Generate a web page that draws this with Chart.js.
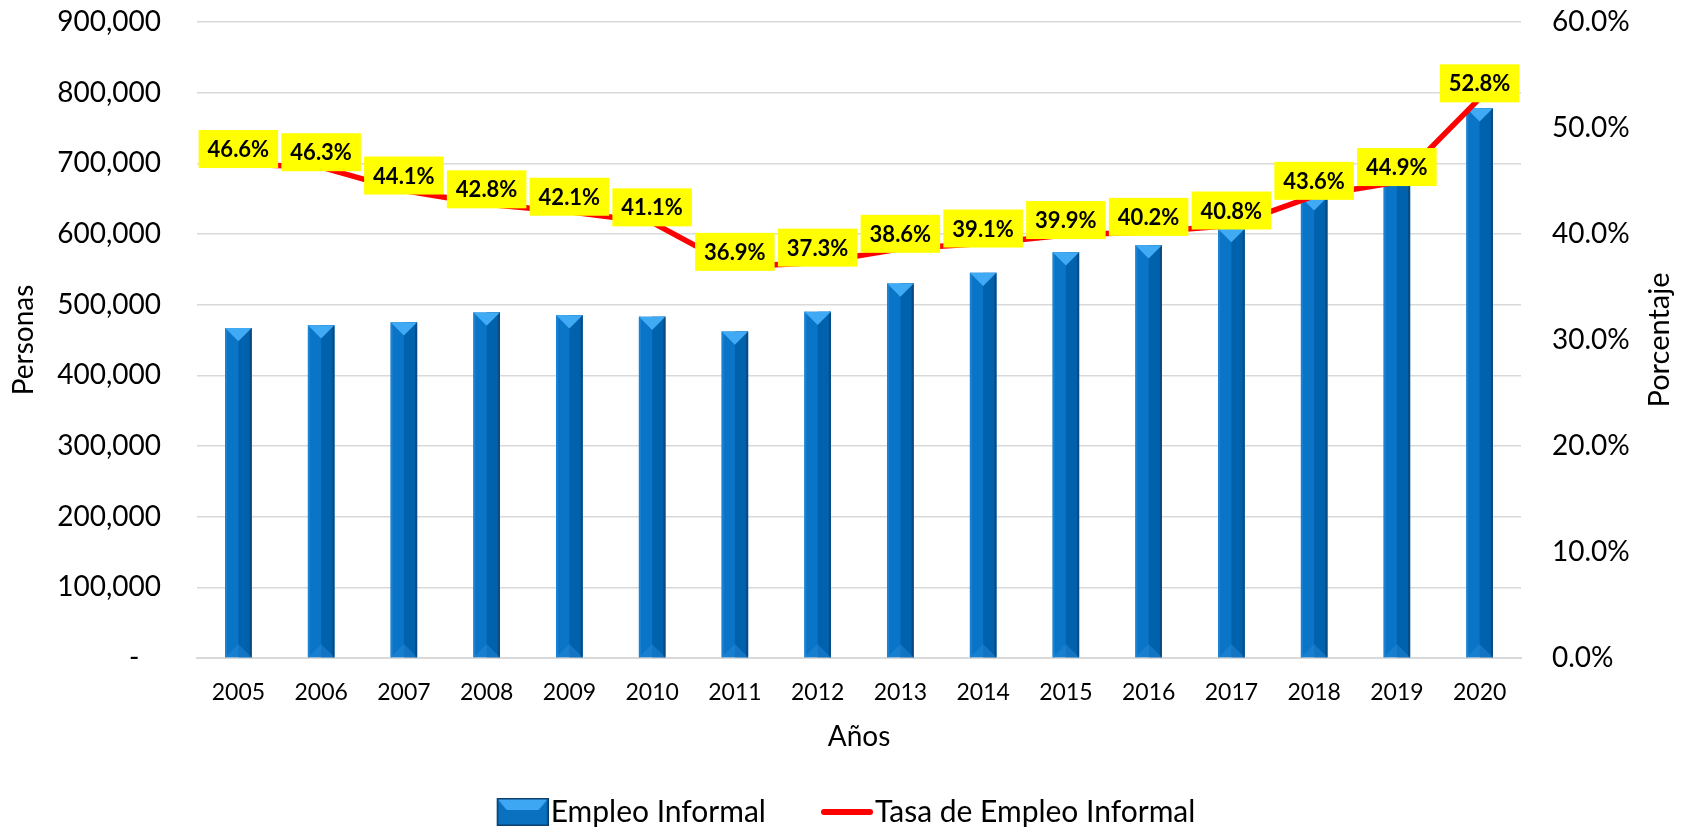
<!DOCTYPE html>
<html>
<head>
<meta charset="utf-8">
<title>Empleo Informal</title>
<script src="https://cdn.jsdelivr.net/npm/chart.js@4.4.1/dist/chart.umd.min.js"></script>
<style>
  html, body { margin: 0; padding: 0; background: #fff; }
</style>
</head>
<body>
<canvas id="empleoChart" width="1691" height="832"></canvas>
<script>
const years = ['2005', '2006', '2007', '2008', '2009', '2010', '2011', '2012',
  '2013', '2014', '2015', '2016', '2017', '2018', '2019', '2020'];
const empleoInformal = [467000, 471000, 475000, 489000, 485000, 483000, 462000, 490000,
  530000, 545000, 574000, 584000, 607000, 652000, 718000, 778000];
const tasaInformal = [46.6, 46.3, 44.1, 42.8, 42.1, 41.1, 36.9, 37.3,
  38.6, 39.1, 39.9, 40.2, 40.8, 43.6, 44.9, 52.8];

const FONT = 'Lato';

// iconos de la leyenda (el icono va pegado al texto)
function barIcon() {
  const c = document.createElement('canvas');
  c.width = 66; c.height = 28;
  const g = c.getContext('2d');
  const l = 14, w = 52;
  g.fillStyle = '#0a70c0';
  g.fillRect(l, 0, w, 28);
  g.fillStyle = '#3ea7f3';
  g.beginPath();
  g.moveTo(l, 0); g.lineTo(l + w, 0); g.lineTo(l + w - 10, 12); g.lineTo(l + 10, 12);
  g.closePath(); g.fill();
  g.strokeStyle = '#0b3f6e'; g.lineWidth = 1.5;
  g.strokeRect(l + 0.75, 0.75, w - 1.5, 26.5);
  return c;
}
function lineIcon() {
  const c = document.createElement('canvas');
  c.width = 66; c.height = 28;
  const g = c.getContext('2d');
  g.strokeStyle = '#ff0000'; g.lineWidth = 6; g.lineCap = 'round';
  g.beginPath(); g.moveTo(17, 14); g.lineTo(63, 14); g.stroke();
  return c;
}

const barBevel = {
  id: 'barBevel',
  afterDatasetDraw(chart, args) {
    if (args.index !== 0) return;
    const ctx = chart.ctx;
    args.meta.data.forEach(bar => {
      const p = bar.getProps(['x', 'y', 'base', 'width'], true);
      const l = p.x - p.width / 2, r = p.x + p.width / 2, tri = p.width * 0.5;
      ctx.save();
      ctx.fillStyle = '#0062ad';
      ctx.fillRect(p.x, p.y, r - p.x, p.base - p.y);
      ctx.fillStyle = '#0b4a80';
      ctx.fillRect(r - 2, p.y, 2, p.base - p.y);
      ctx.fillStyle = '#1a82d4';
      ctx.fillRect(l, p.y, 2, p.base - p.y);
      ctx.beginPath();
      ctx.moveTo(l, p.base); ctx.lineTo(r, p.base); ctx.lineTo(p.x, p.base - tri);
      ctx.closePath();
      ctx.fillStyle = 'rgba(40,140,220,0.45)';
      ctx.fill();
      ctx.beginPath();
      ctx.moveTo(l, p.y); ctx.lineTo(r, p.y); ctx.lineTo(p.x, p.y + tri);
      ctx.closePath();
      ctx.fillStyle = '#40aaf5';
      ctx.fill();
      ctx.restore();
    });
  }
};

const tasaLabels = {
  id: 'tasaLabels',
  afterDatasetsDraw(chart) {
    const meta = chart.getDatasetMeta(1);
    const ctx = chart.ctx;
    ctx.save();
    ctx.font = 'bold 22px ' + FONT;
    ctx.textAlign = 'center';
    ctx.textBaseline = 'middle';
    meta.data.forEach((pt, i) => {
      const txt = tasaInformal[i].toFixed(1) + '%';
      const w = ctx.measureText(txt).width + 18, h = 38;
      const cy = pt.y - 15;
      ctx.fillStyle = '#ffff00';
      ctx.fillRect(pt.x - w / 2, cy - h / 2, w, h);
      ctx.fillStyle = '#000';
      ctx.fillText(txt, pt.x, cy + 1);
    });
    ctx.restore();
  }
};

// titulo del eje derecho, leido de abajo hacia arriba
const rightTitle = {
  id: 'rightTitle',
  afterDraw(chart) {
    const s = chart.scales.y1;
    const ctx = chart.ctx;
    ctx.save();
    ctx.translate(s.right - 31, (s.top + s.bottom) / 2);
    ctx.rotate(-Math.PI / 2);
    ctx.font = '29px ' + FONT;
    ctx.fillStyle = '#000';
    ctx.textAlign = 'center';
    ctx.textBaseline = 'middle';
    ctx.fillText('Porcentaje', 0, 0);
    ctx.restore();
  }
};

const ctx = document.getElementById('empleoChart').getContext('2d');
new Chart(ctx, {
  type: 'bar',
  data: {
    labels: years,
    datasets: [{
      label: 'Empleo Informal',
      data: empleoInformal,
      backgroundColor: '#0a74c6',
      borderWidth: 0,
      categoryPercentage: 1,
      barPercentage: 0.32,
      yAxisID: 'y',
      order: 1
    }, {
      type: 'line',
      label: 'Tasa de Empleo Informal',
      data: tasaInformal,
      borderColor: '#ff0000',
      borderWidth: 5.5,
      borderCapStyle: 'round',
      pointRadius: 0,
      tension: 0,
      yAxisID: 'y1',
      order: 0
    }]
  },
  options: {
    responsive: false,
    animation: false,
    layout: { padding: { top: 22, left: 0, right: 0, bottom: -5 } },
    plugins: {
      tooltip: { enabled: false },
      legend: {
        position: 'bottom',
        labels: {
          usePointStyle: true,
          pointStyleWidth: 40,
          padding: 54,
          color: '#000',
          font: { family: FONT, size: 30 },
          sort: (a, b) => a.datasetIndex - b.datasetIndex,
          generateLabels(chart) {
            const items = Chart.defaults.plugins.legend.labels.generateLabels(chart);
            items.forEach(it => {
              it.pointStyle = it.datasetIndex === 0 ? barIcon() : lineIcon();
            });
            return items;
          }
        }
      }
    },
    scales: {
      x: {
        grid: { display: false, drawTicks: false },
        border: { display: true, color: '#d9d9d9', width: 2 },
        ticks: { color: '#000', padding: 21, font: { family: FONT, size: 23 } },
        title: {
          display: true, text: 'Años', color: '#000',
          font: { family: FONT, size: 28 },
          padding: { top: 0, bottom: -11 }
        },
        afterFit(s) { s.height = 85; s.paddingLeft = 0; s.paddingRight = 0; }
      },
      y: {
        position: 'left',
        min: 0, max: 900000,
        grid: { color: '#d9d9d9', lineWidth: 1.5, drawTicks: false },
        border: { display: false },
        ticks: {
          stepSize: 100000, padding: 36, color: '#000',
          font: { family: FONT, size: 28 },
          callback: v => v === 0 ? '-   ' : v.toLocaleString('en-US')
        },
        title: {
          display: true, text: 'Personas', color: '#000',
          font: { family: FONT, size: 28 },
          padding: { top: 7, bottom: 0 }
        },
        afterFit(s) { s.width = 197; s.paddingTop = 0; s.paddingBottom = 0; }
      },
      y1: {
        position: 'right',
        min: 0, max: 60,
        grid: { display: false, drawTicks: false },
        border: { display: false },
        ticks: {
          stepSize: 10, padding: 31, color: '#000',
          font: { family: FONT, size: 28 },
          callback: v => v.toFixed(1) + '%'
        },
        afterFit(s) { s.width = 170; s.paddingTop = 0; s.paddingBottom = 0; }
      }
    }
  },
  plugins: [barBevel, tasaLabels, rightTitle]
});
</script>
</body>
</html>
